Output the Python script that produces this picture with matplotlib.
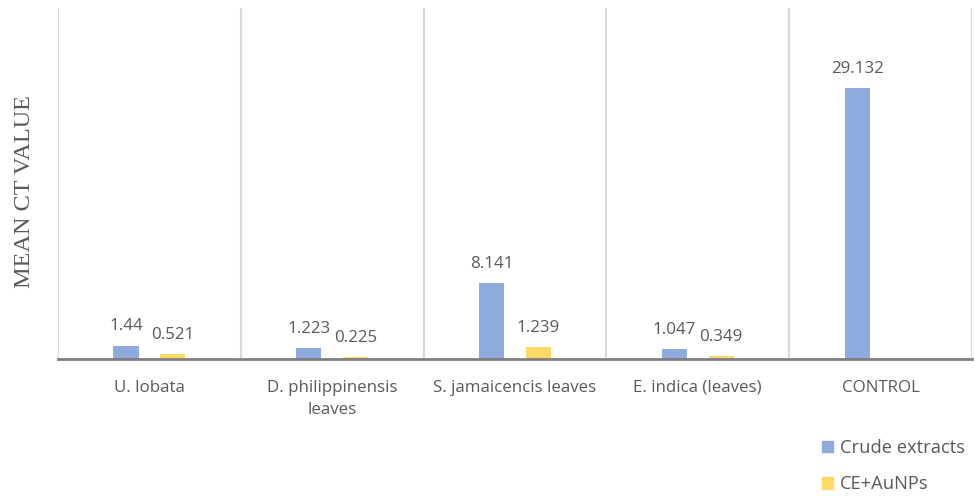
import matplotlib
matplotlib.use("Agg")
import matplotlib.pyplot as plt
import numpy as np
from matplotlib.patches import Patch

categories = ["U. lobata", "D. philippinensis\nleaves", "S. jamaicencis leaves", "E. indica (leaves)", "CONTROL"]
crude = [1.44, 1.223, 8.141, 1.047, 29.132]
ce_aunps = [0.521, 0.225, 1.239, 0.349, None]
crude_labels = ["1.44", "1.223", "8.141", "1.047", "29.132"]
ce_labels = ["0.521", "0.225", "1.239", "0.349", None]

blue = "#8FAADC"
yellow = "#FFD966"
txt = "#595959"
font = "Open Sans"
fs = 12.2

fig = plt.figure(figsize=(9.75, 4.96), dpi=100)
ax = fig.add_axes([58/975, 1-359/496, (972-58)/975, (359-8)/496])

x = np.arange(len(categories))
w = 0.137
off = 0.128
for i in range(len(categories)):
    ax.bar(x[i]-off, crude[i], w, color=blue, zorder=3)
    ax.annotate(crude_labels[i], (x[i]-off, crude[i]), xytext=(0, 8), textcoords="offset points",
                ha="center", va="bottom", color=txt, fontsize=fs, family=font)
    if ce_aunps[i] is not None:
        ax.bar(x[i]+off, ce_aunps[i], w, color=yellow, zorder=3)
        ax.annotate(ce_labels[i], (x[i]+off, ce_aunps[i]), xytext=(0, 8), textcoords="offset points",
                    ha="center", va="bottom", color=txt, fontsize=fs, family=font)

ax.set_xlim(-0.5, len(categories)-0.5)
ax.set_ylim(0, 37.7)
for b in np.arange(-0.5, len(categories)):
    ax.axvline(b, color="#D9D9D9", lw=1.5, zorder=1)
ax.axhline(0, color="#7F7F7F", lw=2, zorder=4, clip_on=False)
for s in ax.spines.values():
    s.set_visible(False)
ax.set_yticks([])
ax.set_xticks(x)
ax.set_xticklabels(categories, color=txt, fontsize=fs, family=font, linespacing=1.5)
ax.tick_params(axis="x", length=0, pad=15)

fig.text(25/975, 1-192/496, "MEAN CT VALUE", rotation=90, ha="center", va="center",
         family="Liberation Serif", fontsize=17.5, color=txt)

handles = [Patch(color=blue, label="Crude extracts"), Patch(color=yellow, label="CE+AuNPs")]
leg = fig.legend(handles=handles, loc="lower right", bbox_to_anchor=(1.007, -0.028), frameon=False,
                 prop={"family": font, "size": 13.2}, labelcolor=txt, handlelength=0.6,
                 handleheight=0.6, handletextpad=0.4, labelspacing=1.0)

fig.savefig("out.png", dpi=100)
